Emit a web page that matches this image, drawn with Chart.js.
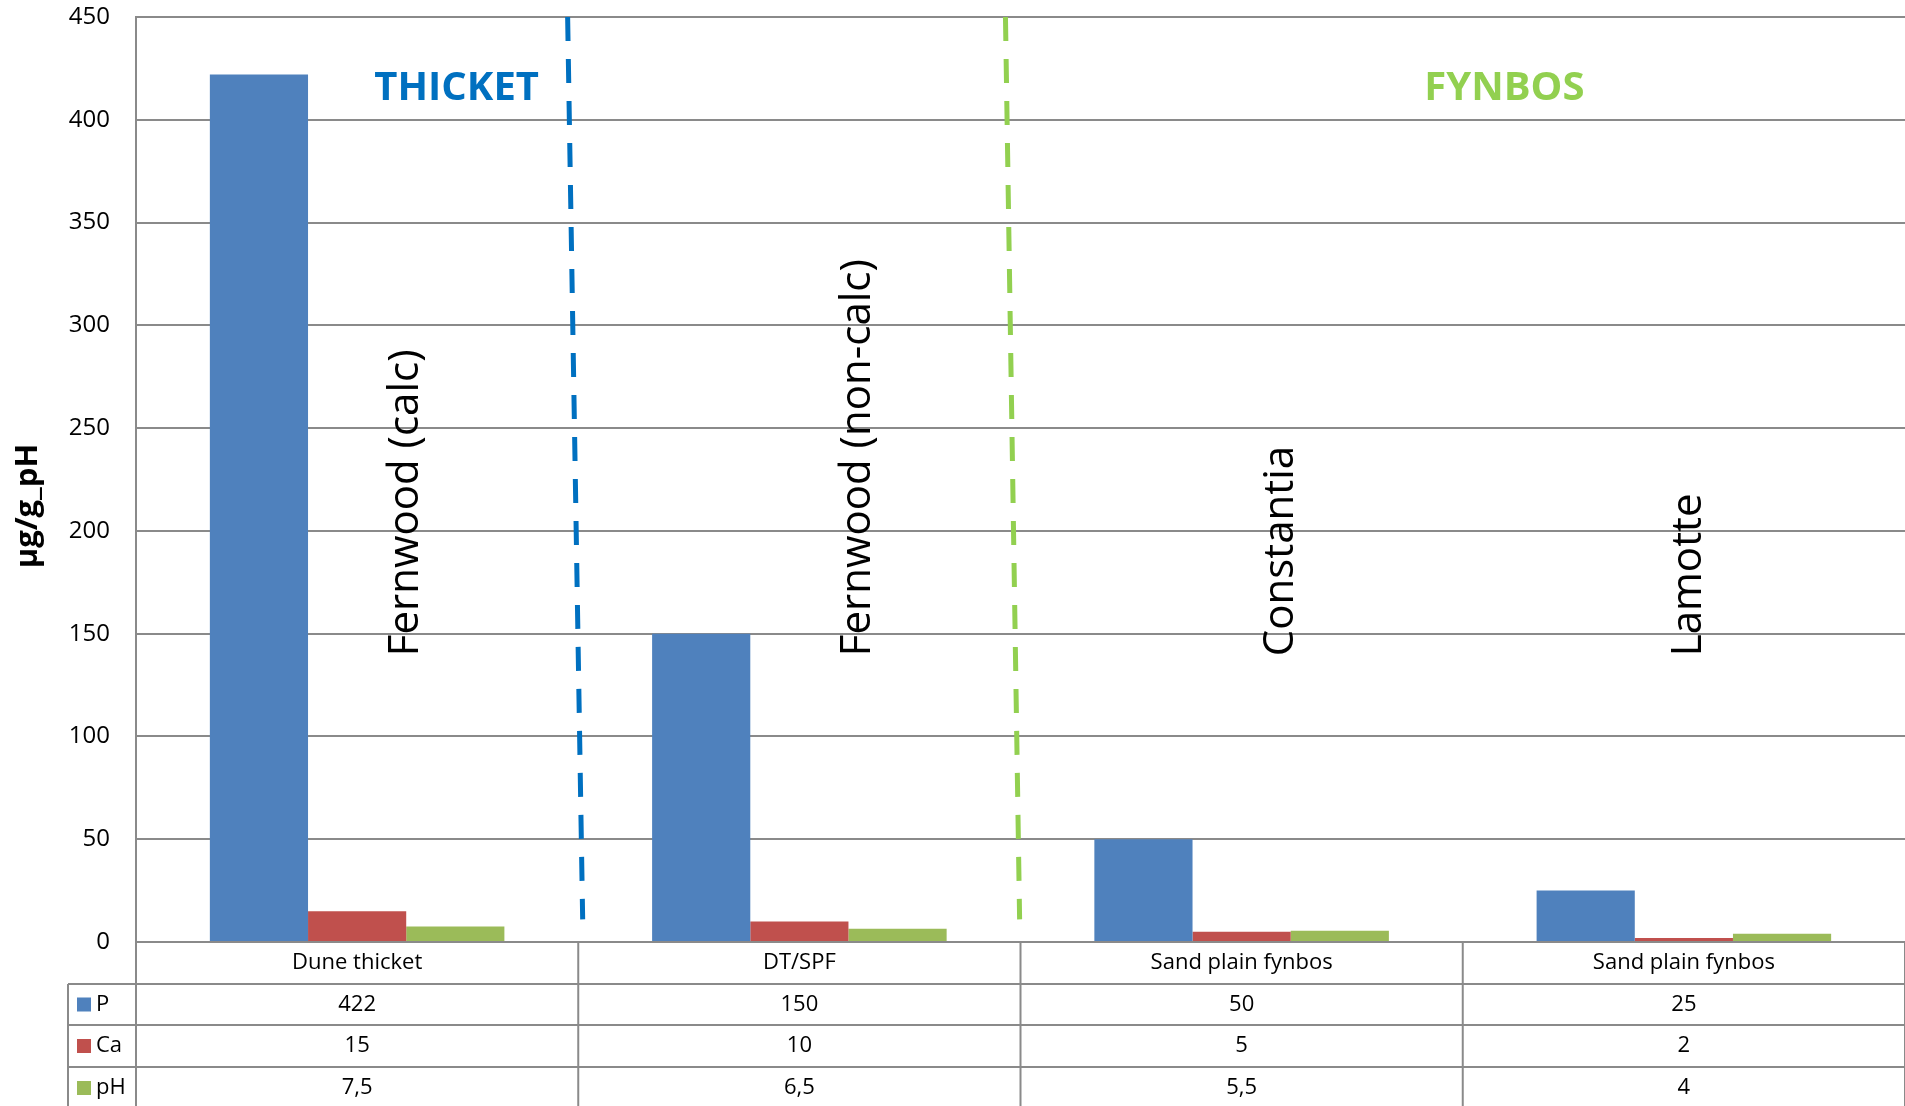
<!DOCTYPE html>
<html>
<head>
<meta charset="utf-8">
<script src="https://cdn.jsdelivr.net/npm/chart.js@4"></script>
<style>
  html, body { margin: 0; padding: 0; background: #fff; }
  #wrap { width: 1905px; height: 1106px; }
</style>
</head>
<body>
<div id="wrap"><canvas id="soilChart" width="1905" height="1106"></canvas></div>
<script>
// chart data
var categories = ['Dune thicket', 'DT/SPF', 'Sand plain fynbos', 'Sand plain fynbos'];
var pValues = [422, 150, 50, 25];
var caValues = [15, 10, 5, 2];
var phValues = [7.5, 6.5, 5.5, 4];
var seriesNames = ['P', 'Ca', 'pH'];
var seriesColors = ['#4F81BD', '#C0504D', '#9BBB59'];
var siteNames = ['Fernwood (calc)', 'Fernwood (non-calc)', 'Constantia', 'Lamotte'];
var yMax = 450;
var yStep = 50;

var gridColor = '#8a8a8a';
var font = '"Open Sans", "Liberation Sans", sans-serif';

function fmt(v) {
    return String(v).replace('.', ',');
}

// table under the axis, region labels, dashed dividers
var extras = {
    id: 'extras',
    afterDatasetsDraw: function(chart) {
        var ctx = chart.ctx;
        var x = chart.scales.x;
        var y = chart.scales.y;

        // dashed dividers between thicket and fynbos
        var dividers = [
            { from: 0.476, to: 0.51, color: '#0070C0' },
            { from: 1.466, to: 1.498, color: '#92D050' }
        ];
        ctx.save();
        ctx.lineWidth = 5;
        ctx.setLineDash([24, 18]);
        dividers.forEach(function(d) {
            ctx.strokeStyle = d.color;
            ctx.beginPath();
            ctx.moveTo(x.getPixelForValue(d.from), y.getPixelForValue(yMax));
            ctx.lineTo(x.getPixelForValue(d.to), y.getPixelForValue(11));
            ctx.stroke();
        });
        ctx.restore();

        // group headings
        ctx.save();
        ctx.font = 'bold 40px ' + font;
        ctx.textAlign = 'center';
        ctx.textBaseline = 'middle';
        ctx.fillStyle = '#0070C0';
        ctx.fillText('THICKET', x.getPixelForValue(0.225), 89);
        ctx.fillStyle = '#92D050';
        ctx.fillText('FYNBOS', x.getPixelForValue(2.594), 89);
        ctx.restore();

        // site names, rotated
        var siteOffsets = [0.11, 0.132, 0.09, 0.012];
        ctx.save();
        ctx.font = '42px ' + font;
        ctx.fillStyle = '#000';
        ctx.textAlign = 'left';
        ctx.textBaseline = 'middle';
        siteNames.forEach(function(name, i) {
            ctx.save();
            ctx.translate(x.getPixelForValue(i + siteOffsets[i]), y.getPixelForValue(139));
            ctx.rotate(-Math.PI / 2);
            ctx.fillText(name, 0, 0);
            ctx.restore();
        });
        ctx.restore();
    },
    afterDraw: function(chart) {
        var ctx = chart.ctx;
        var x = chart.scales.x;
        var area = chart.chartArea;
        var top = area.bottom;
        var rowH = [42, 41, 42, 42];
        var bottom = chart.height;
        var legendLeft = 68;
        var rows = [pValues, caValues, phValues];

        ctx.save();
        ctx.strokeStyle = gridColor;
        ctx.lineWidth = 2;

        // horizontal rules
        var yy = top;
        var lines = [];
        for (var r = 0; r < rowH.length; r++) {
            lines.push(yy);
            yy += rowH[r];
        }
        lines.forEach(function(ly, i) {
            ctx.beginPath();
            ctx.moveTo(i === 0 ? area.left : legendLeft, ly);
            ctx.lineTo(area.right, ly);
            ctx.stroke();
        });
        // verticals
        ctx.beginPath();
        ctx.moveTo(legendLeft, lines[1]);
        ctx.lineTo(legendLeft, bottom);
        ctx.moveTo(area.left, top);
        ctx.lineTo(area.left, bottom);
        for (var c = 0; c < categories.length; c++) {
            var sx = x.getPixelForValue(c + 0.5);
            ctx.moveTo(sx, top);
            ctx.lineTo(sx, bottom);
        }
        ctx.stroke();

        // texts
        ctx.fillStyle = '#000';
        ctx.font = '22px ' + font;
        ctx.textAlign = 'center';
        ctx.textBaseline = 'middle';
        categories.forEach(function(cat, i) {
            ctx.fillText(cat, x.getPixelForValue(i), lines[0] + rowH[0] / 2);
        });
        rows.forEach(function(vals, r) {
            var cy = lines[r + 1] + rowH[r + 1] / 2;
            vals.forEach(function(v, i) {
                ctx.fillText(fmt(v), x.getPixelForValue(i), cy);
            });
            ctx.fillStyle = seriesColors[r];
            ctx.fillRect(77, cy - 7, 14, 14);
            ctx.fillStyle = '#000';
            ctx.textAlign = 'left';
            ctx.fillText(seriesNames[r], 96, cy);
            ctx.textAlign = 'center';
        });

        // y axis title
        ctx.save();
        ctx.translate(28, 506);
        ctx.rotate(-Math.PI / 2);
        ctx.font = 'bold 31px ' + font;
        ctx.fillText('µg/g_pH', 0, 0);
        ctx.restore();

        ctx.restore();
    }
};

var soilChart = new Chart(document.getElementById('soilChart').getContext('2d'), {
    type: 'bar',
    data: {
        labels: categories,
        datasets: [
            { label: seriesNames[0], data: pValues, backgroundColor: seriesColors[0] },
            { label: seriesNames[1], data: caValues, backgroundColor: seriesColors[1] },
            { label: seriesNames[2], data: phValues, backgroundColor: seriesColors[2] }
        ]
    },
    options: {
        responsive: false,
        animation: false,
        layout: { padding: { top: 17, left: 0, right: 0, bottom: 0 } },
        datasets: {
            bar: { categoryPercentage: 0.666, barPercentage: 1.0 }
        },
        plugins: {
            legend: { display: false },
            tooltip: { enabled: false }
        },
        scales: {
            x: {
                grid: { display: false },
                border: { display: false },
                ticks: { display: false },
                afterFit: function(scale) { scale.height = 164; }
            },
            y: {
                min: 0,
                max: yMax,
                ticks: {
                    stepSize: yStep,
                    padding: 26,
                    color: '#000',
                    font: { family: font, size: 24 }
                },
                grid: { color: gridColor, lineWidth: 2, drawTicks: false },
                border: { color: gridColor, width: 2 },
                afterFit: function(scale) {
                    scale.width = 136;
                    scale.paddingTop = 0;
                    scale.paddingBottom = 0;
                }
            }
        }
    },
    plugins: [extras]
});
</script>
</body>
</html>
